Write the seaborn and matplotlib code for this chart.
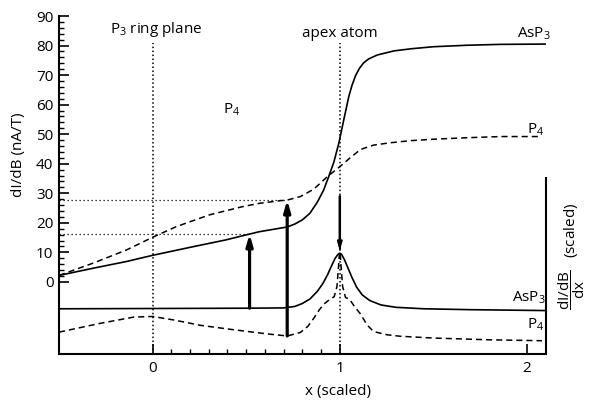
import numpy as np
import pandas as pd
import matplotlib
matplotlib.use("Agg")
import matplotlib.pyplot as plt
import seaborn as sns
from matplotlib.ticker import FixedLocator

# ---------------- data ----------------
# upper panel: dI/dB (nA/T)
x_up_asp3 = [-0.5, -0.32, -0.14, 0.0, 0.215, 0.39, 0.518, 0.571, 0.72, 0.76, 0.80, 0.84, 0.88,
             0.913, 0.94, 0.968, 0.995, 1.021, 1.048, 1.065, 1.084, 1.105, 1.128, 1.155, 1.2, 1.29,
             1.38, 1.5, 1.68, 1.86, 2.1]
y_up_asp3 = [2.2, 4.6, 6.9, 9.0, 11.9, 14.2, 16.2, 17.0, 18.6, 19.6, 21.0, 23.2, 27.0,
             31.0, 35.5, 40.5, 47.0, 54.8, 62.7, 66.5, 69.8, 72.3, 74.2, 75.5, 76.8, 78.2,
             78.9, 79.6, 80.1, 80.4, 80.5]

x_up_p4 = [-0.5, -0.32, -0.14, 0.0, 0.126, 0.304, 0.482, 0.571, 0.683, 0.719, 0.79, 0.861, 0.933,
           1.0, 1.057, 1.11, 1.18, 1.27, 1.377, 1.5, 1.68, 1.86, 2.07]
y_up_p4 = [2.2, 6.3, 10.8, 15.1, 18.7, 22.7, 25.5, 26.6, 27.5, 27.7, 28.9, 31.4, 35.6,
           39.0, 42.1, 44.8, 46.3, 47.1, 47.8, 48.3, 48.8, 49.2, 49.2]

# lower panel: d(dI/dB)/dx (scaled, drawn with an offset)
x_lo_asp3 = [-0.5, 0.0, 0.5, 0.7, 0.76, 0.8, 0.84, 0.88, 0.91, 0.935, 0.955, 0.975, 0.99, 1.0,
             1.01, 1.025, 1.045, 1.065, 1.09, 1.12, 1.16, 1.22, 1.3, 1.45, 1.7, 2.1]
y_lo_asp3 = [-9.1, -9.0, -8.9, -8.8, -8.3, -7.3, -5.8, -3.2, -0.5, 2.5, 5.3, 8.0, 9.3, 9.7,
             9.3, 7.5, 4.5, 1.5, -1.8, -4.4, -6.3, -7.8, -8.6, -9.1, -9.4, -9.7]

x_lo_p4 = [-0.5, -0.278, -0.1, 0.0, 0.114, 0.256, 0.434, 0.612, 0.719, 0.79, 0.83, 0.861, 0.89,
           0.915, 0.945, 0.97, 0.985, 0.993, 1.0, 1.007, 1.015, 1.03, 1.055, 1.08, 1.11, 1.145,
           1.18, 1.253, 1.324, 1.5, 1.8, 2.08]
y_lo_p4 = [-17.0, -14.0, -11.9, -11.7, -12.9, -14.7, -16.2, -17.6, -18.3, -17.1, -15.0, -12.3, -9.5,
           -7.5, -6.0, -5.0, -1.5, 5.0, 12.0, 5.0, -1.5, -5.2, -6.1, -8.5, -10.8, -14.5,
           -16.8, -17.9, -18.4, -19.0, -19.6, -19.9]

# arrows (x, start y, end y)
arrow_x = [0.518, 0.719]
arrow_y0 = [-8.9, -18.3]
arrow_y1 = [16.2, 27.7]
apex_arrow = (1.0, 29.0, 10.5)

# reference lines
vlines_x = [0.0, 1.0]
hlines_y = [16.3, 27.7]
hlines_xend = [0.518, 0.719]

xticks_major = [0, 1, 2]
yticks_major = [0, 10, 20, 30, 40, 50, 60, 70, 80, 90]

# ---------------- style ----------------
sns.set_theme(style="white")
plt.rcParams["font.family"] = ["Open Sans", "DejaVu Sans"]
plt.rcParams["mathtext.fontset"] = "custom"
plt.rcParams["mathtext.rm"] = "Open Sans"
plt.rcParams["mathtext.it"] = "Open Sans"
plt.rcParams["mathtext.default"] = "regular"
plt.rcParams["text.color"] = "black"
plt.rcParams["axes.labelcolor"] = "black"
plt.rcParams["xtick.color"] = "black"
plt.rcParams["ytick.color"] = "black"

FS = 11
fig = plt.figure(figsize=(5.89, 4.0), dpi=100)
ax = fig.add_axes([0.1002, 0.115, 0.8263, 0.845])

YMIN, YMAX = -24.4, 90
XMIN, XMAX = -0.5, 2.1

# reference lines
for xv in vlines_x:
    ax.plot([xv, xv], [YMIN, 81], color="black", lw=1.1, linestyle=(0, (1, 1.6)), zorder=1)
for yv, xe in zip(hlines_y, hlines_xend):
    ax.plot([XMIN, xe], [yv, yv], color="black", lw=0.9, linestyle=(0, (1, 2.2)), zorder=1)

dash = (4, 2.6)
sns.lineplot(x=x_up_asp3, y=y_up_asp3, color="black", lw=1.2, ax=ax, estimator=None, sort=False)
sns.lineplot(x=x_up_p4, y=y_up_p4, color="black", lw=1.1, ax=ax, estimator=None, sort=False,
             linestyle=(0, dash))
sns.lineplot(x=x_lo_asp3, y=y_lo_asp3, color="black", lw=1.2, ax=ax, estimator=None, sort=False)
sns.lineplot(x=x_lo_p4, y=y_lo_p4, color="black", lw=1.1, ax=ax, estimator=None, sort=False,
             linestyle=(0, dash))

for xa, y0, y1 in zip(arrow_x, arrow_y0, arrow_y1):
    ax.annotate("", xy=(xa, y1), xytext=(xa, y0),
                arrowprops=dict(arrowstyle="-|>,head_length=0.55,head_width=0.16", lw=2.3,
                                color="black", shrinkA=0, shrinkB=0), zorder=5)
ax.annotate("", xy=(apex_arrow[0], apex_arrow[2]), xytext=(apex_arrow[0], apex_arrow[1]),
            arrowprops=dict(arrowstyle="-|>,head_length=0.35,head_width=0.1", lw=1.8,
                            color="black", shrinkA=0, shrinkB=0), zorder=5)

ax.set_xlim(XMIN, XMAX)
ax.set_ylim(YMIN, YMAX)

# spines
for s in ["top", "right"]:
    ax.spines[s].set_visible(False)
for s in ["left", "bottom"]:
    ax.spines[s].set_color("black")
    ax.spines[s].set_linewidth(1.5)
ax.plot([1, 1], [0, (35.5 - YMIN) / (YMAX - YMIN)], transform=ax.transAxes, color="black",
        lw=1.5, clip_on=False, solid_capstyle="butt")

# ticks
ax.set_xticks(xticks_major)
ax.set_xticklabels([str(t) for t in xticks_major], fontsize=FS)
ax.xaxis.set_minor_locator(FixedLocator(np.round(np.arange(0.1, 1.0, 0.1), 2)))
ax.set_yticks(yticks_major)
ax.set_yticklabels([str(t) for t in yticks_major], fontsize=FS)
ax.yaxis.set_minor_locator(FixedLocator(np.arange(0, 91, 2)))
ax.tick_params(axis="both", which="major", direction="in", length=7, width=1.2,
               color="black", pad=4, labelcolor="black")
ax.tick_params(axis="both", which="minor", direction="in", length=3.5, width=1.0, color="black")
ax.tick_params(axis="x", which="major", pad=5)
ax.tick_params(left=True, bottom=True, which="both")

ax.set_ylabel("dI/dB (nA/T)", fontsize=FS, color="black")
ax.yaxis.set_label_coords(-0.068, 0.589)
ax.set_xlabel("")
ax.text(0.573, -0.11, "x (scaled)", transform=ax.transAxes, ha="center", va="center",
        fontsize=FS, color="black")
ax.text(1.054, 0.29, r"$\dfrac{dI/dB}{dx}$   (scaled)", transform=ax.transAxes, rotation=90,
        ha="center", va="center", fontsize=FS, color="black")

# annotations
ax.text(0.02, 85.3, r"P$_3$ ring plane", ha="center", va="center", fontsize=FS, color="black")
ax.text(1.0, 84.2, "apex atom", ha="center", va="center", fontsize=FS, color="black")
ax.text(0.42, 58.2, r"P$_4$", ha="center", va="center", fontsize=FS, color="black")
ax.text(2.125, 82.8, r"AsP$_3$", ha="right", va="baseline", fontsize=FS, clip_on=False, color="black")
ax.text(2.0, 50.3, r"P$_4$", ha="left", va="baseline", fontsize=FS, clip_on=False, color="black")
ax.text(2.098, -6.7, r"AsP$_3$", ha="right", va="baseline", fontsize=FS, clip_on=False, color="black")
ax.text(2.0, -15.7, r"P$_4$", ha="left", va="baseline", fontsize=FS, clip_on=False, color="black")

fig.savefig("out.png", dpi=100)
